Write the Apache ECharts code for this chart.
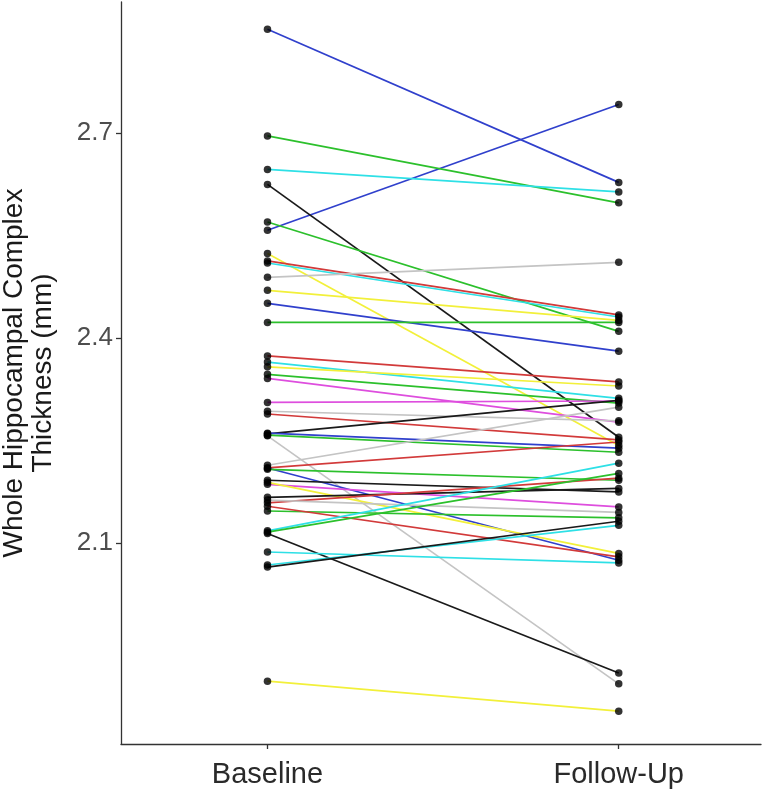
<!DOCTYPE html>
<html>
<head>
<meta charset="utf-8">
<script src="https://cdn.jsdelivr.net/npm/echarts@6/dist/echarts.min.js"></script>
<style>
html,body{margin:0;padding:0;background:#fff;}
#chart{width:766px;height:801px;}
</style>
</head>
<body>
<div id="chart"></div>
<script>
const timepoints = ['Baseline', 'Follow-Up'];
const yTicks = [2.1, 2.4, 2.7];
const baseline = [2.852, 2.558, 2.696, 2.647, 2.625, 2.570, 2.524, 2.513, 2.510, 2.489, 2.470, 2.451, 2.423,
  2.374, 2.365, 2.358, 2.347, 2.341, 2.306, 2.293, 2.289, 2.260, 2.261, 2.258, 2.257, 2.214, 2.210, 2.210,
  2.208, 2.192, 2.186, 2.189, 2.167, 2.159, 2.163, 2.147, 2.154, 2.118, 2.116, 2.114, 2.087, 2.068, 2.065, 1.898];
const followUp = [2.628, 2.742, 2.598, 2.614, 2.255, 2.410, 2.243, 2.434, 2.431, 2.511, 2.426, 2.381, 2.423,
  2.336, 2.312, 2.330, 2.305, 2.277, 2.308, 2.279, 2.251, 2.309, 2.239, 2.233, 1.894, 2.299, 2.248, 2.075,
  2.192, 2.175, 2.153, 2.085, 2.180, 2.195, 2.145, 2.137, 2.080, 2.217, 2.202, 1.910, 2.071, 2.126, 2.132, 1.854];
const groups = ['blue','blue','green','cyan','black','green','yellow','red','cyan','gray','yellow','blue','green',
  'red','cyan','yellow','green','magenta','magenta','gray','red','black','blue','green','gray','gray','red','blue',
  'green','black','magenta','yellow','black','red','gray','green','red','cyan','green','black','cyan','cyan','black','yellow'];

const palette = {blue:'#3040cc', green:'#2cc02c', cyan:'#2ee0e6', black:'#1a1a1a', yellow:'#f2f03a',
  red:'#d23a3a', gray:'#c4c4c4', magenta:'#de4ede'};

const series = [];
baseline.forEach((b, i) => {
  series.push({
    type: 'line',
    data: [[0, b], [1, followUp[i]]],
    showSymbol: false,
    silent: true,
    lineStyle: {color: palette[groups[i]], width: 1.7},
    z: 2
  });
});
const pts = [];
baseline.forEach((b, i) => { pts.push([0, b]); pts.push([1, followUp[i]]); });
series.push({type: 'scatter', data: pts, symbolSize: 7.5, itemStyle: {color: '#000'}, z: 5});

const chart = echarts.init(document.getElementById('chart'), null, {renderer: 'canvas'});
chart.setOption({
  animation: false,
  backgroundColor: '#fff',
  grid: {left: 121, right: 5, top: 2, bottom: 57, containLabel: false, outerBoundsMode: 'none'},
  xAxis: {
    type: 'value', min: -0.417, max: 1.405,
    axisLine: {show: true, onZero: false, lineStyle: {color: '#333', width: 1.3}},
    axisTick: {show: true, customValues: [0, 1], length: 5, lineStyle: {color: '#333', width: 1.3}},
    axisLabel: {customValues: [0, 1], formatter: v => timepoints[Math.round(v)], color: '#2a2a2a',
      fontFamily: 'Liberation Sans', fontSize: 29, margin: 16},
    splitLine: {show: false}
  },
  yAxis: {
    type: 'value', min: 1.806, max: 2.892,
    name: 'Whole Hippocampal Complex\nThickness (mm)',
    nameLocation: 'middle', nameRotate: 90, nameGap: 63,
    nameTextStyle: {color: '#1a1a1a', fontFamily: 'Liberation Sans', fontSize: 28, lineHeight: 29},
    axisLine: {show: true, onZero: false, lineStyle: {color: '#333', width: 1.3}},
    axisTick: {show: true, customValues: yTicks, length: 5, lineStyle: {color: '#333', width: 1.3}},
    axisLabel: {customValues: yTicks, formatter: v => v.toFixed(1), color: '#4d4d4d',
      fontFamily: 'Liberation Sans', fontSize: 26, margin: 8},
    splitLine: {show: false}
  },
  series: series
});
</script>
</body>
</html>
